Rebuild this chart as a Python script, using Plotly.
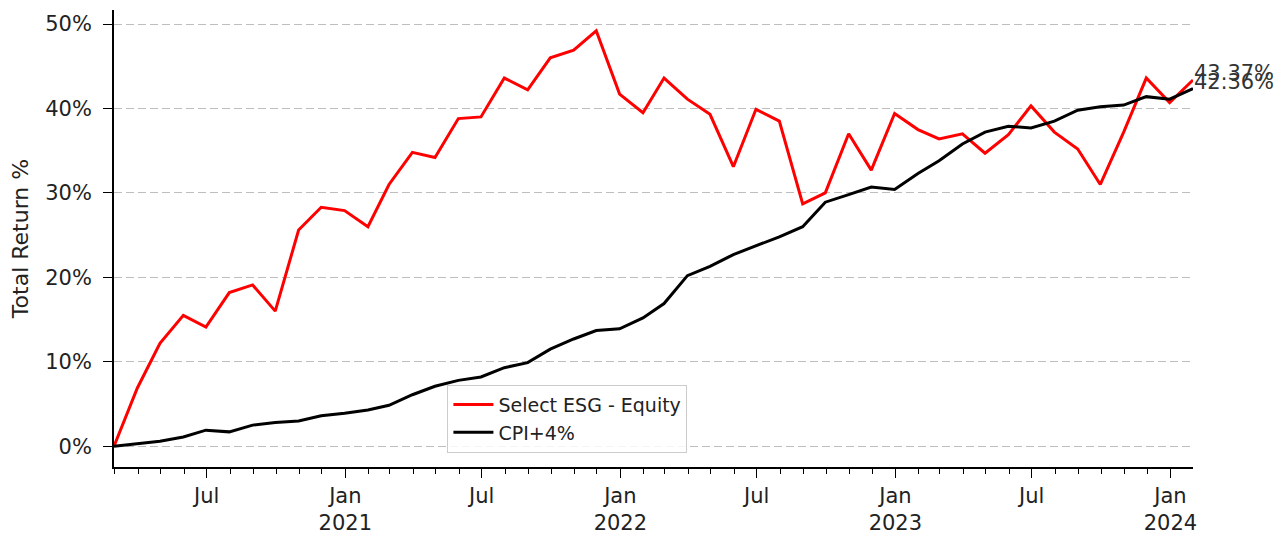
import pandas as pd
import plotly.graph_objects as go

# Month-end dates (Feb 2020 .. Jan 2024)
dates = pd.date_range("2020-02-29", periods=48, freq="ME")

esg_equity = [0.0, 6.9, 12.2, 15.5, 14.1, 18.2, 19.1, 16.0, 25.6, 28.3, 27.9, 26.0,
              31.0, 34.8, 34.2, 38.8, 39.0, 43.6, 42.2, 46.0, 46.9, 49.2, 41.7, 39.5,
              43.6, 41.1, 39.3, 33.1, 39.9, 38.5, 28.7, 30.0, 37.0, 32.7, 39.4, 37.5,
              36.4, 37.0, 34.7, 36.9, 40.3, 37.2, 35.2, 31.0, 37.2, 43.6, 40.7, 43.37]

cpi_plus4 = [0.0, 0.28, 0.6, 1.1, 1.9, 1.7, 2.5, 2.8, 3.0, 3.6, 3.9, 4.3,
             4.85, 6.1, 7.1, 7.8, 8.2, 9.3, 9.9, 11.5, 12.7, 13.7, 13.9, 15.2,
             16.9, 20.2, 21.3, 22.7, 23.7, 24.8, 26.0, 28.9, 29.8, 30.7, 30.4, 32.3,
             33.8, 35.8, 37.2, 37.9, 37.7, 38.5, 39.8, 40.2, 40.4, 41.4, 41.1, 42.36]

series_names = ["Select ESG - Equity", "CPI+4%"]
series_colors = ["#ff0000", "#000000"]

x_tick_vals = ["2020-07-01", "2021-01-01", "2021-07-01", "2022-01-01", "2022-07-01",
               "2023-01-01", "2023-07-01", "2024-01-01"]
x_tick_text = ["Jul", "Jan<br>2021", "Jul", "Jan<br>2022", "Jul", "Jan<br>2023", "Jul", "Jan<br>2024"]
y_tick_vals = [0, 10, 20, 30, 40, 50]
y_tick_text = ["0%", "10%", "20%", "30%", "40%", "50%"]

FONT = "DejaVu Sans"

fig = go.Figure()
for name, vals, col in zip(series_names, [esg_equity, cpi_plus4], series_colors):
    fig.add_trace(go.Scatter(x=dates, y=vals, mode="lines", name=name,
                             line=dict(color=col, width=3)))

for vals in [esg_equity, cpi_plus4]:
    fig.add_annotation(x=dates[-1], y=vals[-1], text=f"{vals[-1]:.2f}%",
                       xanchor="left", yanchor="bottom", showarrow=False,
                       xshift=-1, yshift=-7,
                       font=dict(family=FONT, size=21, color="#333333"))

# page body has an 8px margin, so the figure is sized/offset to compensate
fig.update_layout(
    width=1279, height=526,
    margin=dict(l=106, r=94, t=2, b=67),
    paper_bgcolor="white", plot_bgcolor="white",
    font=dict(family=FONT, size=21, color="#222222"),
    showlegend=True,
    legend=dict(x=0.309, y=0.18, xanchor="left", yanchor="top",
                bgcolor="rgba(255,255,255,0.85)", bordercolor="#cccccc", borderwidth=1,
                font=dict(family=FONT, size=19, color="#222222"),
                tracegroupgap=0, itemwidth=40),
)

fig.update_xaxes(
    type="date", automargin=False,
    range=[dates[0], dates[-1]],
    tickvals=x_tick_vals, ticktext=x_tick_text,
    ticks="outside", ticklen=9, tickwidth=1.3, tickcolor="black",
    minor=dict(ticks="outside", ticklen=5, tickwidth=1, tickcolor="black",
               dtick="M1", tick0="2020-01-01", showgrid=False),
    showline=True, linecolor="black", linewidth=1.8,
    showgrid=False, zeroline=False,
    tickfont=dict(family=FONT, size=21, color="#222222"),
)

fig.update_yaxes(
    automargin=False,
    range=[-2.46, 51.66],
    tickvals=y_tick_vals, ticktext=y_tick_text,
    ticks="outside", ticklen=9, tickwidth=1.3, tickcolor="black",
    ticklabelstandoff=7,
    showline=True, linecolor="black", linewidth=1.8,
    showgrid=True, gridcolor="#bdbdbd", gridwidth=1.3, griddash="8px,4px",
    zeroline=False,
    title=dict(text="Total Return %", standoff=12,
               font=dict(family=FONT, size=22, color="#222222")),
    tickfont=dict(family=FONT, size=21, color="#222222"),
)

fig.write_html("out.html")
